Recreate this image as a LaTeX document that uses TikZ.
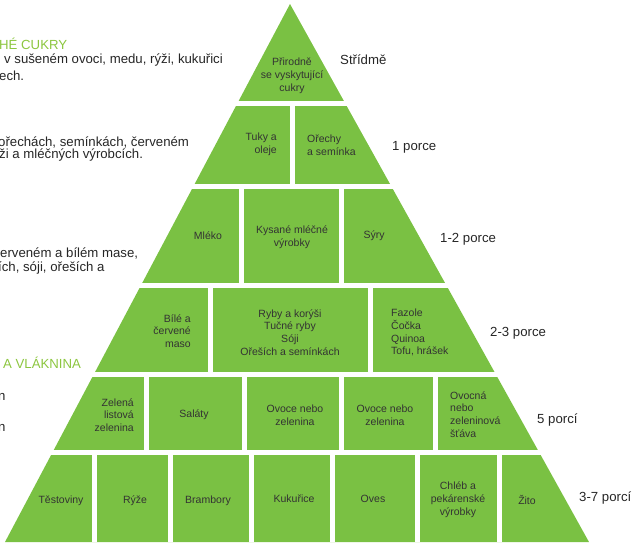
\documentclass[tikz,border=0pt]{standalone}
\usepackage{fontspec}
\setmainfont{Liberation Sans}
\definecolor{pyrgreen}{HTML}{7AC143}
\definecolor{headgreen}{HTML}{8CC63F}
\definecolor{celltext}{HTML}{333333}
\definecolor{sidetext}{HTML}{262626}

\begin{document}
\begin{tikzpicture}[x=1pt,y=-1pt,
    cell/.style={inner sep=0pt,text=celltext,font=\fontsize{10.5}{12.8}\selectfont},
    portion/.style={inner sep=0pt,anchor=west,text=sidetext,font=\fontsize{13.2}{15}\selectfont},
    side/.style={inner sep=0pt,anchor=west,text=sidetext,font=\fontsize{13.2}{15}\selectfont},
    head/.style={side,text=headgreen}]
  \useasboundingbox (0,0) rectangle (633,542);

  % pyramid, cut by white gaps
  \begin{scope}
    \clip (0,0) rectangle (633,542);
    \fill[pyrgreen] (290,4) -- (5,542) -- (589,542) -- cycle;
    \foreach \y in {101,184,283,372,450}
      \fill[white] (0,\y) rectangle (633,\y+5);
    \foreach \x in {292.5}
      \fill[white] (\x-2.5,106) rectangle (\x+2.5,184);
    \foreach \x in {241,341.5}
      \fill[white] (\x-2.5,189) rectangle (\x+2.5,283);
    \foreach \x in {210.5,370.5}
      \fill[white] (\x-2.5,288) rectangle (\x+2.5,372);
    \foreach \x in {146.5,244.5,341.5,435.5}
      \fill[white] (\x-2.5,377) rectangle (\x+2.5,450);
    \foreach \x in {94.5,170.5,251,332.5,417.5,499.5}
      \fill[white] (\x-2.5,455) rectangle (\x+2.5,542);
  \end{scope}

  % top
  \node[cell,align=center] (sugar) at (292,76) {Přirodně\\se vyskytující\\cukry};

  % fats
  \node[cell,align=right,anchor=east] (fats) at (277,144.5) {Tuky a\\oleje};
  \node[cell,align=left,anchor=west] (nuts) at (307,145.5) {Ořechy\\a semínka};

  % dairy
  \node[cell] (milk) at (208,236) {Mléko};
  \node[cell,align=center] (fermented) at (292,237) {Kysané mléčné\\výrobky};
  \node[cell] (cheese) at (374,236) {Sýry};

  % protein
  \node[cell,align=right,anchor=east] (meat) at (191,331) {Bílé a\\červené\\maso};
  \node[cell,align=center] (fish) at (290,332.5) {Ryby a korýši\\Tučné ryby\\Sóji\\Ořeších a semínkách};
  \node[cell,align=left,anchor=west] (beans) at (391,332.5) {Fazole\\Čočka\\Quinoa\\Tofu, hrášek};

  % vegetables and fruit
  \node[cell,align=right,anchor=east] (leafy) at (134,415) {Zelená\\listová\\zelenina};
  \node[cell] (salad) at (194,415) {Saláty};
  \node[cell,align=center] (fruitA) at (295,415) {Ovoce nebo\\zelenina};
  \node[cell,align=center] (fruitB) at (385,415) {Ovoce nebo\\zelenina};
  \node[cell,align=left,anchor=west] (juice) at (450,414.5) {Ovocná\\nebo\\zeleninová\\šťáva};

  % grains
  \node[cell] (pasta) at (61,501) {Těstoviny};
  \node[cell] (rice) at (135,501) {Rýže};
  \node[cell] (potato) at (208,501) {Brambory};
  \node[cell] (corn) at (294,499) {Kukuřice};
  \node[cell] (oats) at (373,499) {Oves};
  \node[cell,align=center] (bread) at (458,500) {Chléb a\\pekárenské\\výrobky};
  \node[cell] (rye) at (527,500) {Žito};

  % portions
  \node[portion] (pSugar) at (340,60) {Střídmě};
  \node[portion] (pFats) at (392,147) {1 porce};
  \node[portion] (pDairy) at (440,239) {1-2 porce};
  \node[portion] (pProtein) at (490,333) {2-3 porce};
  \node[portion] (pVeg) at (537,420) {5 porcí};
  \node[portion] (pGrain) at (579,498) {3-7 porcí};

  % side notes, cut at the left edge
  \begin{scope}
    \clip (0,0) rectangle (633,542);
    \node[head] (hSugar) at (-1,44) {HÉ CUKRY};
    \node[side] (tSugarA) at (4,60) {v sušeném ovoci, medu, rýži, kukuřici};
    \node[side] (tSugarB) at (-1,76) {ech.};
    \node[side] (tFatsA) at (-2,142) {ořechách, semínkách, červeném};
    \node[side] (tFatsB) at (-1,155) {ži a mléčných výrobcích.};
    \node[side] (tProtA) at (0,253) {erveném a bílém mase,};
    \node[side] (tProtB) at (-2,268) {ích, sóji, ořeších a};
    \node[head] (hFibre) at (3,363) {A VLÁKNINA};
    \node[side] (tFibreA) at (-2,397) {n};
    \node[side] (tFibreB) at (-2,428) {n};
  \end{scope}
\end{tikzpicture}
\end{document}
